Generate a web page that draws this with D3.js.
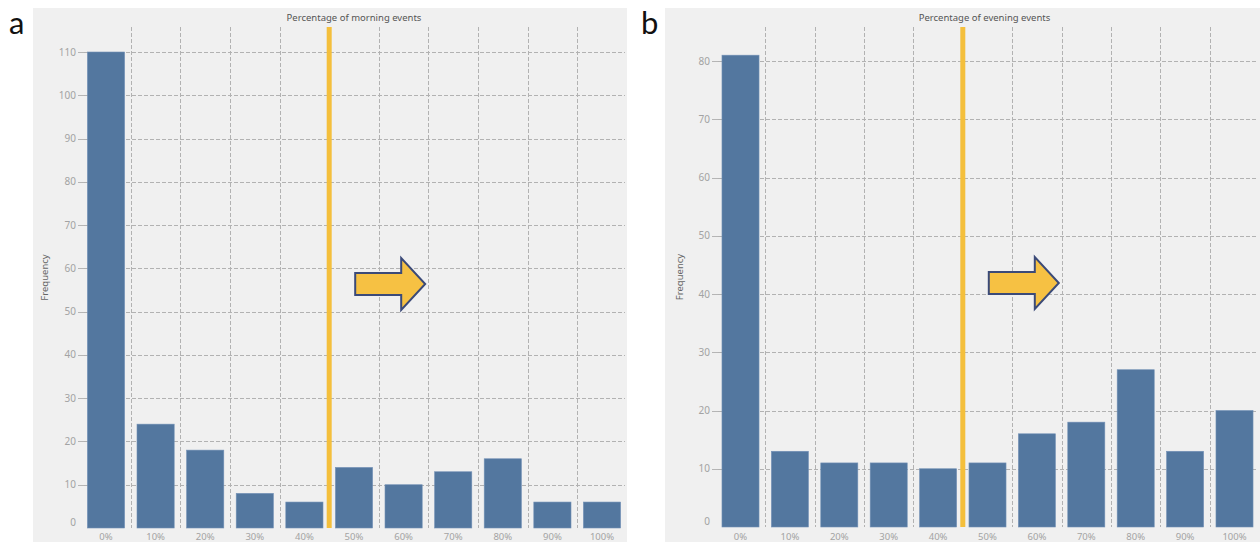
<!DOCTYPE html>
<html>
<head>
<meta charset="utf-8">
<script src="https://cdn.jsdelivr.net/npm/d3@7"></script>
<style>
  html, body { margin: 0; padding: 0; background: #ffffff; }
  svg { display: block; }
</style>
</head>
<body>
<svg id="chart" width="1260" height="542"></svg>
<script>
// Bin labels shared by both histograms
const bins = ["0%", "10%", "20%", "30%", "40%", "50%", "60%", "70%", "80%", "90%", "100%"];

// Frequencies per bin
const morningCounts = [110, 24, 18, 8, 6, 14, 10, 13, 16, 6, 6];
const eveningCounts = [81, 13, 11, 11, 10, 11, 16, 18, 27, 13, 20];

// Y-axis tick values
const morningTicks = [0, 10, 20, 30, 40, 50, 60, 70, 80, 90, 100, 110];
const eveningTicks = [0, 10, 20, 30, 40, 50, 60, 70, 80];

// Panel titles and letters
const titles = ["Percentage of morning events", "Percentage of evening events"];
const letters = ["a", "b"];
const yTitle = "Frequency";

// Threshold drawn between the 40% and 50% bins
const thresholdAfter = "40%";

const svg = d3.select("#chart");
const FONT = "'Noto Sans', 'Open Sans', sans-serif";

const panels = [
  {
    letter: letters[0], title: titles[0], counts: morningCounts, ticks: morningTicks,
    bg: [33, 8, 627, 542], xRange: [81.2, 626.8], yDomain: [0, 110], yRange: [528, 52],
    plotTop: 27, gridLeft: 84, tickLabelX: 76, freqX: 45, letterX: 9, arrowY: 284
  },
  {
    letter: letters[1], title: titles[1], counts: eveningCounts, ticks: eveningTicks,
    bg: [665, 8, 1260, 542], xRange: [715.8, 1259.2], yDomain: [0, 80], yRange: [527, 61],
    plotTop: 27, gridLeft: 718, tickLabelX: 710, freqX: 680, letterX: 641, arrowY: 283
  }
];

panels.forEach(p => {
  const g = svg.append("g");

  // Panel background
  g.append("rect")
    .attr("x", p.bg[0]).attr("y", p.bg[1])
    .attr("width", p.bg[2] - p.bg[0]).attr("height", p.bg[3] - p.bg[1])
    .attr("fill", "#f0f0f0");

  const x = d3.scaleBand().domain(bins).range(p.xRange)
    .paddingInner(0.25).paddingOuter(0.125);
  const y = d3.scaleLinear().domain(p.yDomain).range(p.yRange);
  const step = x.step();
  const plotRight = p.xRange[1];
  const plotBottom = y(0);

  // Horizontal dashed gridlines
  g.selectAll(".hgrid").data(p.ticks.filter(t => t > 0)).join("line")
    .attr("x1", p.gridLeft).attr("x2", Math.min(plotRight, p.bg[2] - 2))
    .attr("y1", d => Math.round(y(d)) + 0.5).attr("y2", d => Math.round(y(d)) + 0.5)
    .attr("stroke", "#b2b2b2").attr("stroke-width", 1)
    .attr("stroke-dasharray", "4,2");

  // Vertical dashed gridlines at bin boundaries
  const boundaries = bins.slice(1).map(b => x(b) - step * x.paddingInner() / 2);
  g.selectAll(".vgrid").data(boundaries).join("line")
    .attr("x1", d => Math.round(d) + 0.5).attr("x2", d => Math.round(d) + 0.5)
    .attr("y1", p.plotTop).attr("y2", plotBottom)
    .attr("stroke", "#b2b2b2").attr("stroke-width", 1)
    .attr("stroke-dasharray", "4,2");

  // Y axis: tick marks and labels
  g.selectAll(".ytick").data(p.ticks).join("line")
    .attr("x1", p.gridLeft - 6).attr("x2", p.gridLeft)
    .attr("y1", d => Math.round(y(d)) + 0.5).attr("y2", d => Math.round(y(d)) + 0.5)
    .attr("stroke", "#b5b5b5").attr("stroke-width", 1)
    .attr("opacity", d => d === 0 ? 0 : 1);
  g.selectAll(".ylab").data(p.ticks).join("text")
    .attr("x", p.tickLabelX)
    .attr("y", d => y(d) - (d === 0 ? 6 : 0))
    .attr("dy", "0.35em")
    .attr("text-anchor", "end")
    .attr("font-family", FONT).attr("font-size", 10)
    .attr("fill", "#a3a3a3")
    .text(d => d);

  // Bars
  g.selectAll(".bar").data(p.counts).join("rect")
    .attr("x", (d, i) => x(bins[i]))
    .attr("y", d => y(d))
    .attr("width", x.bandwidth())
    .attr("height", d => plotBottom - y(d))
    .attr("fill", "#53779f")
    .attr("stroke", "#7391b6").attr("stroke-width", 0.6);

  // X labels along the bottom edge
  g.selectAll(".xlab").data(bins).join("text")
    .attr("x", d => x(d) + x.bandwidth() / 2)
    .attr("y", 540)
    .attr("text-anchor", "middle")
    .attr("font-family", FONT).attr("font-size", 9.5)
    .attr("fill", "#a3a3a3")
    .text(d => d);

  // Threshold line
  const tx = x(thresholdAfter) + x.bandwidth() + step * x.paddingInner() / 2;
  g.append("line")
    .attr("x1", tx).attr("x2", tx)
    .attr("y1", p.plotTop).attr("y2", plotBottom)
    .attr("stroke", "#f4bf3c").attr("stroke-width", 5);

  // Right-pointing arrow annotation
  const ax = tx + 26, ay = p.arrowY;
  const shaftLen = 46, headLen = 24, shaftHalf = 11, headHalf = 26;
  const pts = [
    [ax, ay - shaftHalf], [ax + shaftLen, ay - shaftHalf], [ax + shaftLen, ay - headHalf],
    [ax + shaftLen + headLen, ay], [ax + shaftLen, ay + headHalf],
    [ax + shaftLen, ay + shaftHalf], [ax, ay + shaftHalf]
  ];
  g.append("path")
    .attr("d", d3.line()(pts) + "Z")
    .attr("fill", "#f6c143")
    .attr("stroke", "#3b4a78").attr("stroke-width", 2)
    .attr("stroke-linejoin", "miter");

  // Title
  g.append("text")
    .attr("x", (p.xRange[0] + p.xRange[1]) / 2 + (p.letter === "a" ? 0 : -3))
    .attr("y", 21)
    .attr("text-anchor", "middle")
    .attr("font-family", FONT).attr("font-size", 9.5)
    .attr("fill", "#555555")
    .text(p.title);

  // Y axis title
  g.append("text")
    .attr("transform", `translate(${p.freqX},${(p.plotTop + plotBottom) / 2}) rotate(-90)`)
    .attr("dy", "0.35em")
    .attr("text-anchor", "middle")
    .attr("font-family", FONT).attr("font-size", 9.5)
    .attr("fill", "#666666")
    .text(yTitle);

  // Panel letter
  g.append("text")
    .attr("x", p.letterX).attr("y", 34)
    .attr("font-family", "Lato, 'Open Sans', sans-serif").attr("font-size", 31)
    .attr("fill", "#111111")
    .text(p.letter);
});
</script>
</body>
</html>
